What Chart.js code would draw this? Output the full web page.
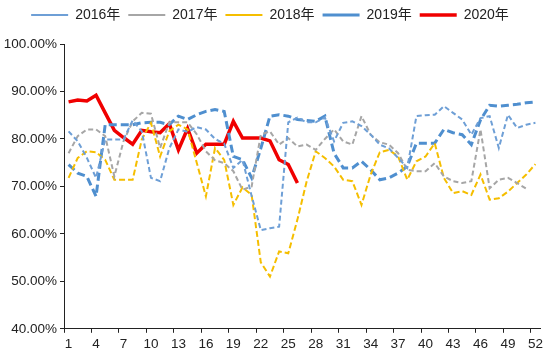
<!DOCTYPE html>
<html>
<head>
<meta charset="utf-8">
<script src="https://cdn.jsdelivr.net/npm/chart.js@4.4.1/dist/chart.umd.min.js"></script>
<style>
  html, body { margin: 0; padding: 0; background: #fff; }
  #wrap { width: 550px; height: 355px; }
</style>
</head>
<body>
<div id="wrap"><canvas id="c" width="550" height="355"></canvas></div>
<script>
const weeks = [1,2,3,4,5,6,7,8,9,10,11,12,13,14,15,16,17,18,19,20,21,22,23,24,25,26,
  27,28,29,30,31,32,33,34,35,36,37,38,39,40,41,42,43,44,45,46,47,48,49,50,51,52];

const seriesNames = ['2016年', '2017年', '2018年', '2019年', '2020年'];

const y2016 = [81.6,79.5,76.0,71.8,79.9,79.9,79.9,83.9,81.6,71.8,
  71.1,78.0,82.0,81.5,82.5,82.0,80.0,79.0,73.9,75.6,
  68.0,60.8,61.2,61.5,83.5,84.5,83.5,83.5,84.5,79.5,
  83.4,83.7,82.7,80.9,78.8,78.0,76.0,73.9,84.8,85.0,
  85.1,86.9,85.5,84.1,80.9,84.4,84.8,78.1,85.1,82.3,
  83.0,83.4];

const y2017 = [77.0,80.6,82.0,82.0,80.6,72.1,79.5,83.7,85.5,85.3,
  78.1,83.5,83.5,83.5,81.0,77.4,75.5,74.9,73.2,69.3,
  70.0,80.9,81.6,78.8,80.2,78.4,78.8,77.7,80.0,82.0,
  79.5,78.8,84.8,80.9,79.3,78.8,77.0,73.5,73.2,73.2,
  74.9,72.1,71.1,70.7,71.1,82.0,69.6,71.4,71.8,70.7,
  69.5];

const y2018 = [71.8,76.0,77.4,77.2,75.6,71.4,71.4,71.4,79.9,83.4,
  76.3,81.6,83.0,82.0,75.0,67.9,78.1,75.6,66.1,69.8,
  68.2,54.0,51.0,56.3,55.9,63.0,71.0,77.4,76.0,74.2,
  71.4,71.1,66.1,72.5,77.2,77.7,76.3,71.4,75.3,76.3,
  79.1,71.8,68.6,69.0,68.2,72.5,67.2,67.5,68.9,70.7,
  72.5,74.7];

const y2019 = [74.6,72.8,72.1,67.9,83.0,83.0,83.0,83.0,83.4,83.5,
  83.5,83.0,84.8,84.1,85.1,85.8,86.2,85.8,76.3,75.6,
  71.8,78.0,84.8,85.1,84.8,84.1,83.9,83.7,84.8,77.0,
  73.9,73.9,75.3,73.5,71.4,71.8,72.8,74.2,79.1,79.1,
  79.1,82.0,81.3,80.9,78.8,84.0,87.1,86.9,87.1,87.3,
  87.6,87.8];

const y2020 = [87.8,88.2,88.0,89.2,85.5,81.8,80.3,78.9,81.8,81.5,
  81.3,83.2,77.7,82.2,77.0,78.9,78.9,78.9,83.7,80.2,
  80.2,80.2,79.6,75.6,74.6,70.7];

const yTicks = [40, 50, 60, 70, 80, 90, 100];

const FONT = 'Arial, "Liberation Sans", "Noto Sans CJK SC", sans-serif';

function ds(label, data, color, width, dash) {
  return {
    label, data,
    borderColor: color, backgroundColor: color,
    borderWidth: width, borderDash: dash,
    pointRadius: 0, pointHoverRadius: 0,
    tension: 0, fill: false, spanGaps: false
  };
}

const legendPad = {
  id: 'legendPad',
  beforeInit(chart) {
    const orig = chart.legend.fit;
    chart.legend.fit = function () { orig.call(this); this.height += 12; };
  }
};

new Chart(document.getElementById('c'), {
  type: 'line',
  data: {
    labels: weeks,
    datasets: [
      ds(seriesNames[0], y2016, '#6E9FD6', 2, [5, 3]),
      ds(seriesNames[1], y2017, '#A6A6A6', 2, [5, 3]),
      ds(seriesNames[2], y2018, '#F5BE00', 2, [6, 3]),
      ds(seriesNames[3], y2019, '#4F8FCF', 3, [8, 4]),
      ds(seriesNames[4], y2020, '#F00000', 3.5, [])
    ]
  },
  plugins: [legendPad],
  options: {
    responsive: false,
    animation: false,
    devicePixelRatio: 1,
    layout: { padding: { left: 0, right: 10, top: 0, bottom: 0 } },
    plugins: {
      tooltip: { enabled: false },
      legend: {
        position: 'top',
        labels: {
          usePointStyle: true,
          pointStyle: 'line',
          pointStyleWidth: 37,
          boxHeight: 14,
          padding: 8,
          color: '#222',
          font: { family: FONT, size: 14 }
        }
      }
    },
    scales: {
      x: {
        type: 'category',
        offset: true,
        border: { display: true, color: '#222', width: 1 },
        grid: {
          display: true,
          offset: true,
          drawOnChartArea: false,
          drawTicks: true,
          tickLength: 4,
          color: (c) => (c.index % 3 === 0 ? '#222' : 'rgba(0,0,0,0)')
        },
        ticks: {
          autoSkip: false,
          maxRotation: 0,
          minRotation: 0,
          padding: 3,
          color: '#222',
          font: { family: FONT, size: 13.5 },
          callback: (v, i) => (i % 3 === 0 ? String(weeks[i]) : '')
        }
      },
      y: {
        min: yTicks[0],
        max: yTicks[yTicks.length - 1],
        afterFit: (s) => { s.width = 64; },
        afterBuildTicks: (s) => { s.ticks = yTicks.map(v => ({ value: v })); },
        border: { display: true, color: '#222', width: 1 },
        grid: {
          display: true,
          drawOnChartArea: false,
          drawTicks: true,
          tickLength: 4,
          color: '#222'
        },
        ticks: {
          padding: 3,
          color: '#222',
          font: { family: FONT, size: 13.5 },
          callback: (v) => v.toFixed(2) + '%'
        }
      }
    }
  }
});
</script>
</body>
</html>
